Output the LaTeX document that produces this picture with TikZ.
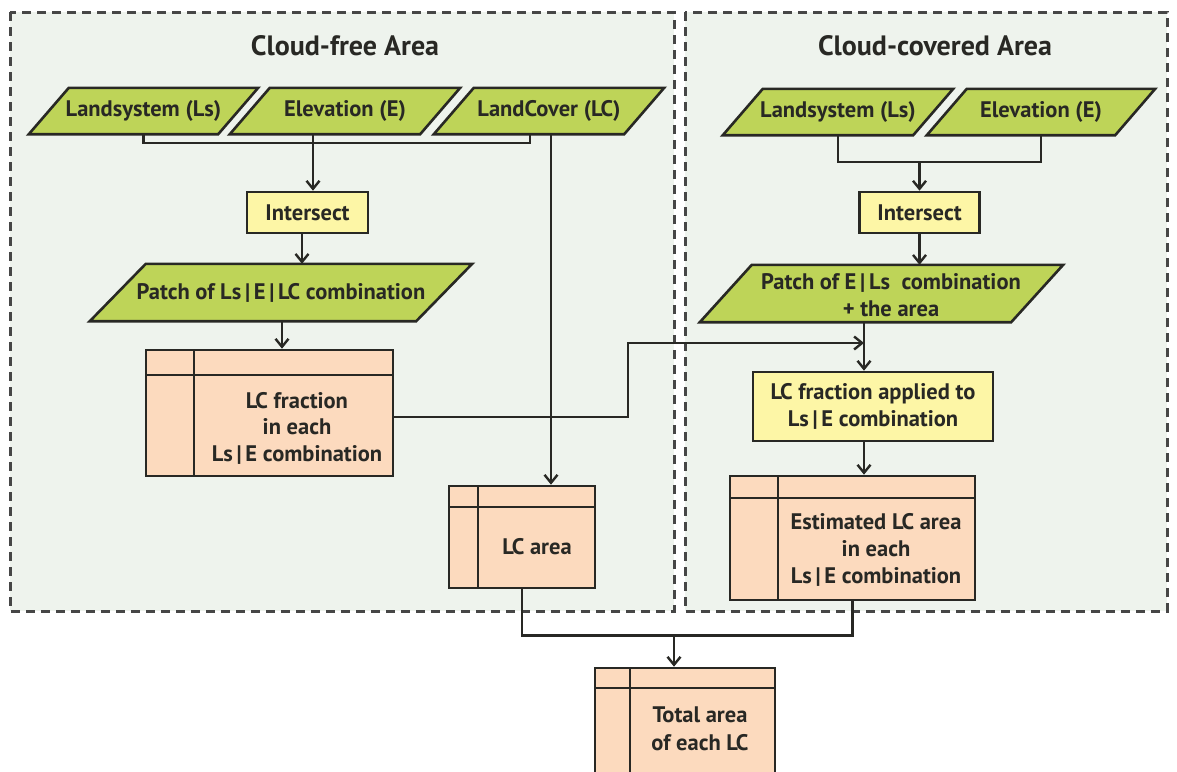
\documentclass[tikz,border=0pt]{standalone}
\usepackage{fontspec}
\setmainfont{PT Sans}
\usetikzlibrary{arrows.meta,backgrounds,calc}
\definecolor{bgc}{RGB}{238,243,237}
\definecolor{grn}{RGB}{190,212,88}
\definecolor{ylw}{RGB}{253,246,166}
\definecolor{pch}{RGB}{252,218,190}
\definecolor{ink}{RGB}{40,40,36}
\definecolor{dsh}{RGB}{70,70,70}
\begin{document}
\begin{tikzpicture}[x=1pt,y=-1pt,
  font=\fontsize{22.5}{26.5}\selectfont\bfseries,
  region/.style={fill=bgc, draw=dsh, line width=3pt, dash pattern=on 9pt off 6pt},
  title/.style={font=\fontsize{28}{32}\selectfont\bfseries, text=ink, inner sep=0pt},
  parabox/.style={minimum height=46pt, inner sep=0pt, text=ink, align=center},
  parafill/.style={fill=grn, draw=ink, line width=2.6pt, line join=miter},
  procbox/.style={draw=ink, fill=ylw, line width=2.6pt, inner sep=0pt, text=ink, align=center},
  store/.style 2 args={draw=ink, fill=pch, line width=2.6pt, inner sep=0pt,
    path picture={\draw[ink, line width=2.6pt] ([xshift=#1]path picture bounding box.north west) -- ([xshift=#1]path picture bounding box.south west);
                  \draw[ink, line width=2.6pt] ([yshift=-#2]path picture bounding box.north west) -- ([yshift=-#2]path picture bounding box.north east);}},
  txt/.style={text=ink, align=center, inner sep=0pt},
  conn/.style={draw=ink, line width=2.4pt},
  arr/.style={conn, -{Straight Barb[length=8pt,width=13pt,line width=2.4pt]}}
]
\useasboundingbox (0,0) rectangle (1177,771);
\begin{scope}[on background layer]
  \fill[white] (0,0) rectangle (1177,771);
  \draw[region] (10,12) rectangle (674,611);
  \draw[region] (685,12) rectangle (1167,611);
\end{scope}

% titles
\node[title] (t1) at (345,46) {Cloud-free Area};
\node[title] (t2) at (935,46) {Cloud-covered Area};

% input parallelograms
\node[parabox, minimum width=229pt] (ls1) at (143.5,111) {Landsystem (Ls)};
\node[parabox, minimum width=230pt] (el1) at (345,111) {Elevation (E)};
\node[parabox, minimum width=230pt] (lc1) at (549,111) {LandCover (LC)};
\node[parabox, minimum width=230pt] (ls2) at (838,112) {Landsystem (Ls)};
\node[parabox, minimum width=228pt] (el2) at (1041,112) {Elevation (E)};

% intersect
\node[procbox, minimum width=121pt, minimum height=41pt] (int1) at (307.5,212.5) {Intersect};
\node[procbox, minimum width=120pt, minimum height=41pt] (int2) at (919.5,212.5) {Intersect};

% patches
\node[parabox, minimum width=382pt, minimum height=57pt] (pat1) at (281,292.5) {Patch of Ls\,|\,E\,|\,LC combination};
\node[parabox, minimum width=363pt, minimum height=57pt] (pat2) at (881.5,293.5) {};
\node[txt] (pat2t) at (891,295) {Patch of E\,|\,Ls~ combination\\+~the area};

% storage boxes
\node[store={48pt}{25pt}, minimum width=247pt, minimum height=126pt] (lcf) at (269.5,413) {};
\node[txt] (lcft) at (297,428) {LC fraction\\in each\\Ls\,|\,E combination};
\node[store={29pt}{21pt}, minimum width=146pt, minimum height=102pt] (lca) at (522,537) {};
\node[txt] (lcat) at (537,547) {LC area};
\node[procbox, minimum width=240pt, minimum height=69pt] (lcfa) at (873,406.5) {LC fraction applied to\\Ls\,|\,E combination};
\node[store={48pt}{22pt}, minimum width=245pt, minimum height=124pt] (est) at (852.5,538) {};
\node[txt, font=\fontsize{22.5}{27}\selectfont\bfseries] (estt) at (876,550) {Estimated LC area\\in each\\Ls\,|\,E combination};
\node[store={35pt}{20pt}, minimum width=180pt, minimum height=106pt] (tot) at (685,721) {};
\node[txt, font=\fontsize{22.5}{28}\selectfont\bfseries] (tott) at (700,729) {Total area\\of each LC};

% parallelogram outlines
\begin{scope}[on background layer]
\foreach \n/\s in {ls1/40,el1/40,lc1/40,ls2/40,el2/40,pat1/56,pat2/52}{
  \draw[parafill] (\n.south west) -- ([xshift=\s pt]\n.north west) -- (\n.north east) -- ([xshift=-\s pt]\n.south east) -- cycle;}
\end{scope}

% connectors, cloud-free side
\draw[conn] (ls1.south) -- ++(0,9) -| ([xshift=-19pt]lc1.south);
\coordinate (a1) at ([xshift=-32pt]el1.south);
\draw[arr] (a1) -- (a1 |- int1.north);
\coordinate (a2) at ([xshift=-5.5pt]int1.south);
\draw[arr] (a2) -- (a2 |- pat1.north);
\coordinate (a3) at ([xshift=1pt]pat1.south);
\draw[arr] (a3) -- (a3 |- lcf.north);
\coordinate (a4) at ([xshift=2pt]lc1.south);
\draw[arr] (a4) -- (a4 |- lca.north);

% connectors, cloud-covered side
\draw[conn] (ls2.south) -- ++(0,27) -| (el2.south);
\coordinate (b1) at (919.5,162);
\draw[arr] (b1) -- (int2.north);
\draw[arr] (int2.south) -- (int2.south |- pat2.north);
\coordinate (b2) at ([xshift=-17.5pt]pat2.south);
\draw[arr] (b2) -- (b2 |- lcfa.north);
\coordinate (b3) at ([xshift=-9pt]lcfa.south);
\draw[arr] (b3) -- (b3 |- est.north);

% cross connector
\coordinate (bend) at (628,343);
\coordinate (mj) at (864,343);
\draw[arr] ([yshift=-4pt]lcf.east) -| (bend) -- (mj);

% bottom
\draw[conn] (lca.south) -- ++(0,46) -| (est.south);
\coordinate (c1) at (674,634);
\draw[arr] (c1) -- (c1 |- tot.north);
\end{tikzpicture}
\end{document}
